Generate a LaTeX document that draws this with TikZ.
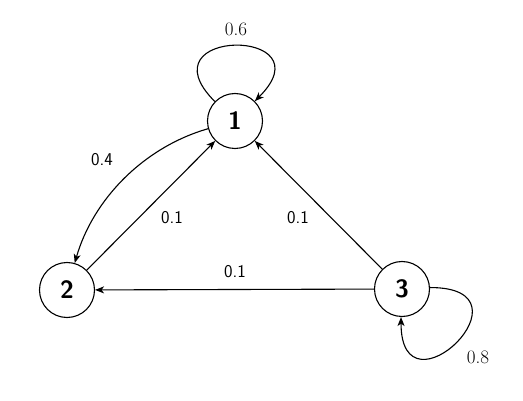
\documentclass[tikz,border=0pt]{standalone}
\usetikzlibrary{arrows.meta}
\begin{document}
\begin{tikzpicture}[x=1pt,y=-1pt,
  state/.style={circle,draw,line width=1.1pt,minimum size=55pt,inner sep=0pt,
    font=\fontsize{25}{29}\selectfont\sffamily\bfseries},
  edge/.style={line width=1.1pt,-{Stealth[length=9pt,width=7pt,inset=2.5pt]}},
  slab/.style={font=\fontsize{18}{21}\selectfont\sffamily},
  rlab/.style={font=\fontsize{19}{22}\selectfont}]
\useasboundingbox (0,0) rectangle (523,401);
\node[state] (n1) at (235,121) {1};
\node[state] (n2) at (67,290) {2};
\node[state] (n3) at (402,289) {3};
\draw[edge] (n1.136) .. controls +(-135:105) and +(-45:105) .. (n1.45);
\draw[edge] (n3.3) .. controls +(0:110) and +(90:105) .. (n3.268);
\draw[edge] (n1) to[out=196,in=74,looseness=0.9] (n2);
\draw[edge] (n2) -- (n1);
\draw[edge] (n3) -- (n1);
\draw[edge] (n3) -- (n2);
\node[rlab] (l6) at (236,29) {0.6};
\node[rlab] (l8) at (478,357) {0.8};
\node[slab] (l4) at (102,160) {0.4};
\node[slab] (l12) at (172,218) {0.1};
\node[slab] (l13) at (298,218) {0.1};
\node[slab] (l23) at (235,272) {0.1};
\end{tikzpicture}
\end{document}
